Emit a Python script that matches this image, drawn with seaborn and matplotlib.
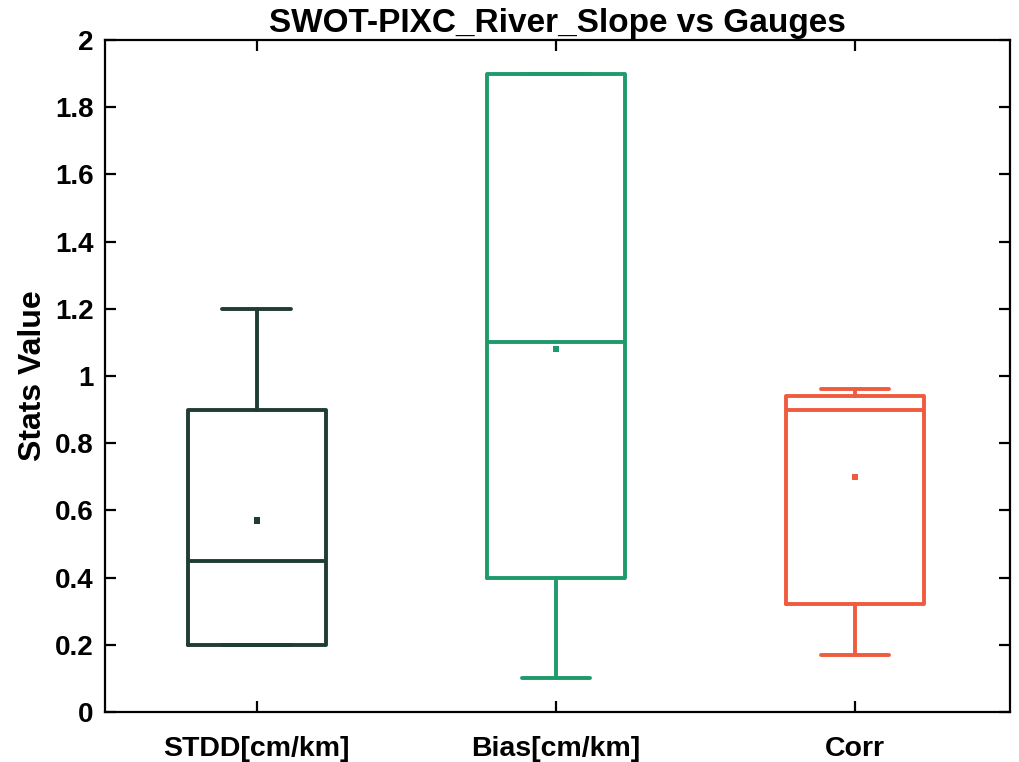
import matplotlib
matplotlib.use("Agg")
import matplotlib.pyplot as plt
import seaborn as sns
import pandas as pd

# Summary statistics per metric
categories = ["STDD[cm/km]", "Bias[cm/km]", "Corr"]
whisker_low = [0.20, 0.10, 0.17]
q1 = [0.20, 0.40, 0.32]
median = [0.45, 1.10, 0.90]
q3 = [0.90, 1.90, 0.94]
whisker_high = [1.20, 1.90, 0.96]
mean = [0.57, 1.08, 0.70]
colors = ["#1F3D33", "#1E9A6B", "#EF5B3F"]

sns.set_style("ticks")
plt.rcParams["font.family"] = ["Liberation Sans", "DejaVu Sans"]
plt.rcParams["text.color"] = "black"
plt.rcParams["axes.labelcolor"] = "black"

fig = plt.figure(figsize=(10.19, 7.62), dpi=100)
ax = fig.add_axes([0.103, 0.0656, 0.888, 0.882])

positions = list(range(len(categories)))
for i, cat in enumerate(categories):
    stats = [{
        "label": cat,
        "whislo": whisker_low[i],
        "q1": q1[i],
        "med": median[i],
        "q3": q3[i],
        "whishi": whisker_high[i],
        "fliers": [],
    }]
    c = colors[i]
    lp = dict(color=c, linewidth=2.8)
    ax.bxp(stats, positions=[positions[i]], widths=0.46, capwidths=0.23,
           showfliers=False, boxprops=lp, medianprops=lp,
           whiskerprops=lp, capprops=lp, manage_ticks=False)

means_df = pd.DataFrame({"x": positions, "mean": mean, "cat": categories})
sns.scatterplot(data=means_df, x="x", y="mean", hue="cat", palette=colors,
                marker="s", s=20, edgecolor="none", legend=False, ax=ax, zorder=5)

ax.set_xlim(-0.508, 2.518)
ax.set_ylim(0, 2)
ax.set_xticks(positions)
ax.set_xticklabels(categories, fontsize=20.5, fontweight="bold")
ax.set_yticks([0, 0.2, 0.4, 0.6, 0.8, 1.0, 1.2, 1.4, 1.6, 1.8, 2.0])
ax.set_yticklabels(["0", "0.2", "0.4", "0.6", "0.8", "1", "1.2", "1.4",
                    "1.6", "1.8", "2"], fontsize=20, fontweight="bold")
ax.set_xlabel("")
ax.set_ylabel("Stats Value", fontsize=23, fontweight="bold", labelpad=5)
ax.set_title("SWOT-PIXC_River_Slope vs Gauges", fontsize=24, fontweight="bold",
             pad=6, color="black")

for s in ax.spines.values():
    s.set_visible(True)
    s.set_linewidth(1.6)
    s.set_color("black")
ax.tick_params(direction="in", length=8, width=1.6, top=True, right=True,
               colors="black")
ax.tick_params(axis="x", pad=17)
ax.tick_params(axis="y", pad=8)

fig.savefig("out.png", dpi=100)
